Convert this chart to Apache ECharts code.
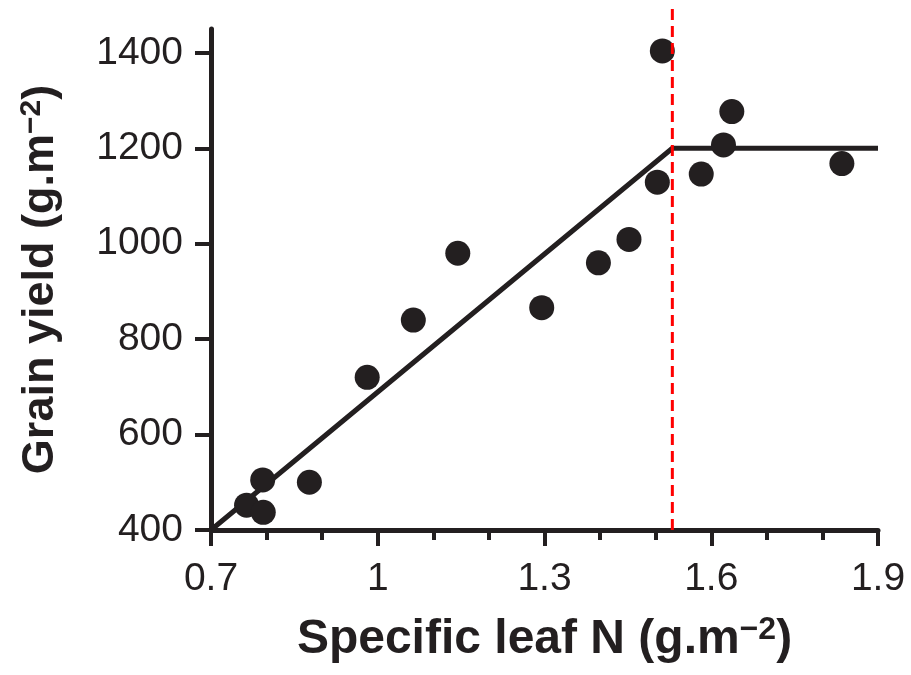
<!DOCTYPE html>
<html>
<head>
<meta charset="utf-8">
<script src="https://cdn.jsdelivr.net/npm/echarts@6/dist/echarts.min.js"></script>
<style>
    html, body { margin: 0; padding: 0; background: #fff; }
    #chart { width: 911px; height: 675px; }
</style>
</head>
<body>
<div id="chart"></div>
<script>
    // observed points (specific leaf N, grain yield)
    var leafN = [0.764, 0.793, 0.794, 0.877, 0.981, 1.064, 1.144, 1.295, 1.397, 1.452, 1.503, 1.512, 1.582, 1.622, 1.637, 1.835];
    var grainYield = [452, 505, 437, 500, 720, 840, 980, 866, 960, 1009, 1129, 1404, 1146, 1207, 1277, 1168];
    // broken-stick fit
    var fitX = [0.7, 1.53, 1.9];
    var fitY = [400, 1200, 1200];
    // threshold
    var breakX = 1.53;
    var breakY = [400, 1500];
    var yTicks = [400, 600, 800, 1000, 1200, 1400];

    var ink = '#231f20';
    var font = '"Liberation Sans", Arial, sans-serif';

    function titleStyle(size) {
        return {
            color: ink, fontSize: size, fontWeight: 'bold', fontFamily: font,
            rich: { sup: { fontSize: Math.round(size * 0.66), fontWeight: 'bold', fontFamily: font, color: ink, padding: [0, 0, Math.round(size * 0.4), 0] } }
        };
    }

    var chart = echarts.init(document.getElementById('chart'));
    var option = {
        animation: false,
        grid: { left: 211, right: 33, top: 29, bottom: 145, outerBoundsMode: 'none' },
        xAxis: {
            type: 'value',
            min: 0.7,
            max: 1.9,
            interval: 0.3,
            splitLine: { show: false },
            axisLine: { lineStyle: { color: ink, width: 5 } },
            axisTick: { length: 16, lineStyle: { color: ink, width: 4 } },
            minorTick: { show: true, splitNumber: 3, length: 10, lineStyle: { color: ink, width: 4 } },
            axisLabel: {
                margin: 30, color: ink, fontSize: 39, fontFamily: font,
                formatter: function (v) { return String(+v.toFixed(1)); }
            },
            name: 'Specific leaf N (g.m{sup|−2})',
            nameLocation: 'middle',
            nameGap: 84,
            nameTextStyle: titleStyle(48)
        },
        yAxis: {
            type: 'value',
            min: 400,
            max: 1450,
            splitLine: { show: false },
            axisLine: { lineStyle: { color: ink, width: 5 } },
            axisTick: { length: 16, customValues: yTicks, lineStyle: { color: ink, width: 4 } },
            axisLabel: {
                margin: 28, customValues: yTicks, color: ink, fontSize: 39, fontFamily: font,
                formatter: function (v) { return String(v); }
            },
            name: 'Grain yield (g.m{sup|−2})',
            nameLocation: 'middle',
            nameGap: 146,
            nameTextStyle: titleStyle(45)
        },
        series: [{
            type: 'line',
            data: fitX.map(function (x, i) { return [x, fitY[i]]; }),
            symbol: 'none',
            lineStyle: { color: ink, width: 5 },
            z: 2
        }, {
            type: 'line',
            data: breakY.map(function (y) { return [breakX, y]; }),
            symbol: 'none',
            clip: false,
            lineStyle: { color: '#ff0000', width: 3, type: [11, 6] },
            z: 4
        }, {
            type: 'scatter',
            data: leafN.map(function (x, i) { return [x, grainYield[i]]; }),
            symbolSize: 25,
            itemStyle: { color: ink, opacity: 1 },
            z: 3
        }]
    };
    chart.setOption(option);
</script>
</body>
</html>
